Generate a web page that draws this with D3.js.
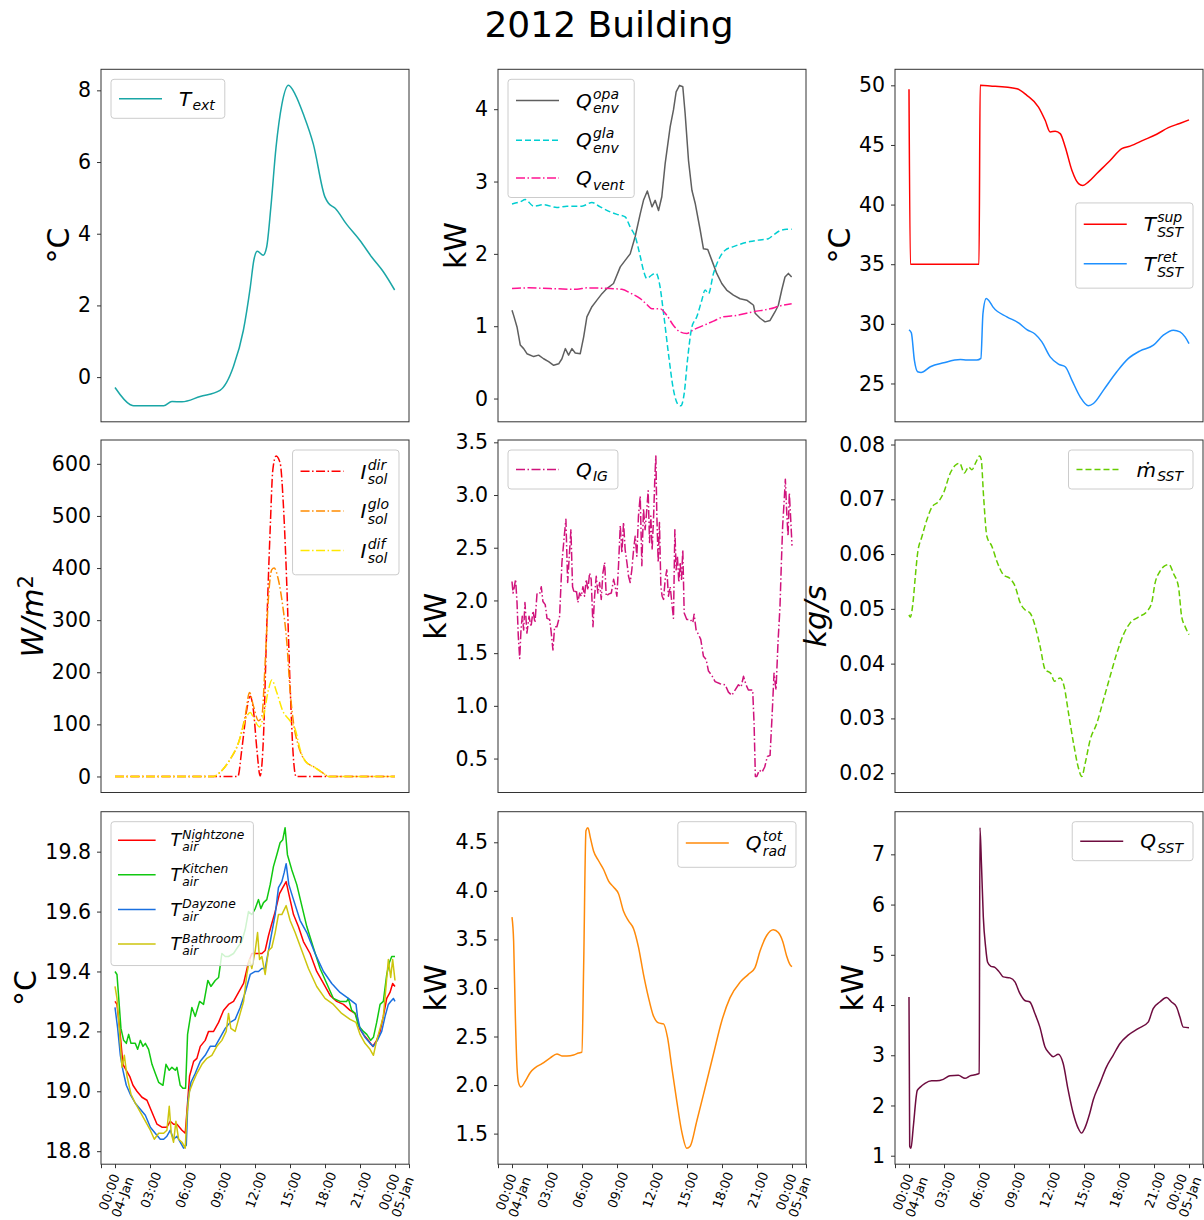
<!DOCTYPE html>
<html>
<head>
<meta charset="utf-8">
<script src="https://cdn.jsdelivr.net/npm/d3@7"></script>
<style>
  body { margin: 0; background: #fff; }
  text { font-family: "DejaVu Sans", sans-serif; fill: #000; }
</style>
</head>
<body>
<div id="chart"></div>
<script>
// --- data: [hour since 04-Jan 00:00, value] ---
var T_EXT = [[0,-0.29],[1.31,-0.77],[1.6,-0.8],[4.17,-0.8],[4.88,-0.68],[5.74,-0.69],[7.3,-0.54],[9.0,-0.37],[10.16,0.3],[11.0,1.3],[11.6,2.52],[11.9,3.26],[12.2,3.51],[12.7,3.4],[13.0,3.63],[13.36,4.74],[13.8,6.4],[14.3,7.6],[14.87,8.14],[15.44,7.89],[16.15,7.33],[17.0,6.5],[18.0,5.02],[18.3,4.85],[18.87,4.71],[19.86,4.26],[21.0,3.81],[22.0,3.35],[23.0,2.94],[23.97,2.43]];

var Q_OPA = [[0,1.22],[0.14,1.15],[0.43,0.99],[0.71,0.74],[1.0,0.69],[1.28,0.62],[1.86,0.58],[2.28,0.6],[2.71,0.55],[3.14,0.51],[3.57,0.46],[4.0,0.48],[4.28,0.55],[4.57,0.69],[4.85,0.6],[5.14,0.69],[5.42,0.63],[5.85,0.62],[6.14,0.85],[6.42,1.13],[6.85,1.27],[7.28,1.36],[7.71,1.45],[8.13,1.52],[8.7,1.59],[9.28,1.82],[9.7,1.91],[10.13,2.0],[10.56,2.24],[11.0,2.56],[11.27,2.74],[11.6,2.87],[12.0,2.65],[12.27,2.74],[12.56,2.6],[12.84,2.79],[13.13,3.25],[13.56,3.76],[13.84,3.99],[14.07,4.24],[14.36,4.33],[14.64,4.31],[14.84,3.94],[15.13,3.29],[15.42,2.88],[15.7,2.7],[16.13,2.33],[16.41,2.07],[16.78,2.06],[17.13,1.91],[17.55,1.73],[17.98,1.59],[18.4,1.5],[18.98,1.43],[19.55,1.38],[20.12,1.36],[20.55,1.31],[20.7,1.29],[20.84,1.18],[21.27,1.11],[21.69,1.06],[22.12,1.08],[22.55,1.2],[22.83,1.29],[23.12,1.5],[23.4,1.68],[23.69,1.73],[23.97,1.68]];
var Q_GLA = [[0,2.69],[0.71,2.72],[1.14,2.75],[1.86,2.66],[2.71,2.68],[3.85,2.64],[4.71,2.66],[5.99,2.66],[6.85,2.71],[7.56,2.65],[8.42,2.58],[9.13,2.54],[9.7,2.51],[10.13,2.37],[10.56,2.24],[11.0,1.96],[11.27,1.77],[11.56,1.66],[12.0,1.71],[12.36,1.73],[12.64,1.59],[12.99,1.18],[13.41,0.62],[13.84,0.12],[14.27,-0.09],[14.47,-0.1],[14.76,0.07],[15.04,0.53],[15.42,0.99],[15.84,1.13],[16.27,1.36],[16.55,1.5],[16.84,1.45],[17.27,1.73],[17.84,1.96],[18.27,2.05],[18.98,2.1],[19.68,2.14],[20.4,2.17],[21.12,2.19],[21.97,2.21],[22.4,2.26],[22.97,2.32],[23.54,2.34],[23.97,2.34]];
var Q_VENT = [[0,1.52],[1.43,1.53],[3.28,1.52],[5.57,1.51],[6.42,1.53],[8.42,1.52],[9.42,1.51],[10.13,1.46],[11.0,1.38],[11.56,1.3],[12.0,1.24],[12.7,1.24],[13.27,1.15],[13.84,1.01],[14.41,0.92],[14.98,0.9],[15.55,0.95],[16.41,1.01],[17.27,1.07],[18.12,1.13],[19.27,1.15],[20.7,1.2],[22.12,1.24],[22.97,1.28],[23.97,1.31]];

var T_SUP = [[0,49.67],[0.12,35.0],[6.0,35.0],[6.1,50.0],[6.96,49.95],[9.25,49.72],[10.1,49.16],[11.1,48.18],[11.67,47.07],[12.1,46.09],[12.53,46.15],[12.96,45.95],[13.39,44.83],[13.96,42.88],[14.53,41.76],[14.9,41.6],[15.38,41.9],[16.1,42.6],[17.24,43.7],[18.24,44.7],[18.95,44.9],[20.1,45.4],[21.23,45.9],[22.23,46.45],[23.2,46.8],[24.0,47.1]];
var T_RET = [[0,29.5],[0.2,29.25],[0.46,26.96],[0.74,25.98],[1.03,25.92],[1.83,26.4],[2.97,26.73],[4.4,27.0],[4.97,26.96],[5.82,26.96],[6.16,27.1],[6.34,30.87],[6.62,32.12],[6.82,31.98],[7.19,31.42],[8.39,30.59],[9.39,30.08],[10.1,29.52],[10.82,29.13],[11.39,28.49],[12.1,27.23],[12.81,26.62],[13.39,26.4],[13.96,25.28],[14.67,23.88],[15.38,23.13],[15.81,23.32],[16.67,24.44],[17.81,25.98],[18.81,27.1],[19.81,27.74],[20.95,28.21],[21.8,29.05],[22.66,29.47],[23.23,29.33],[23.66,28.91],[24.0,28.35]];

var I_DIR = [[0,0],[10.53,0],[10.87,52],[11.3,129],[11.59,154],[11.87,126],[12.16,52],[12.44,1],[12.73,78],[13.0,282],[13.3,474],[13.53,589],[13.81,615],[14.16,601],[14.44,518],[14.73,365],[15.0,180],[15.3,33],[15.52,0],[24,0]];
var I_GLO = [[0,0],[8.45,0],[9.0,8],[9.87,33],[10.59,65],[11.16,116],[11.53,161],[11.87,135],[12.3,107],[12.59,116],[12.87,218],[13.16,346],[13.44,397],[13.64,400],[14.0,378],[14.38,327],[14.73,257],[15.0,167],[15.3,103],[15.72,59],[16.3,30],[17.15,17],[18.0,4],[18.3,0],[24,0]];
var I_DIF = [[0,0],[8.45,0],[9.0,8],[9.87,33],[10.59,65],[11.3,116],[11.59,123],[11.93,110],[12.39,95],[12.73,116],[13.16,167],[13.44,185],[13.87,161],[14.38,126],[15.0,107],[15.44,91],[15.87,52],[16.3,30],[17.15,17],[18.0,4],[18.3,0],[24,0]];

var Q_IG = [[0,2.18],[0.09,2.07],[0.2,2.13],[0.31,2.2],[0.43,1.98],[0.54,1.66],[0.66,1.45],[0.77,1.72],[0.88,1.85],[1.0,1.72],[1.11,1.98],[1.28,1.69],[1.46,1.85],[1.63,1.75],[1.8,1.9],[1.97,1.79],[2.14,2.06],[2.37,2.06],[2.51,2.13],[2.65,1.99],[2.85,1.96],[3.0,1.83],[3.22,1.82],[3.34,1.72],[3.51,1.53],[3.65,1.75],[3.85,1.75],[4.08,1.85],[4.28,2.36],[4.48,2.61],[4.62,2.77],[4.77,2.17],[4.91,2.42],[5.05,2.67],[5.19,2.13],[5.34,2.07],[5.51,2.1],[5.65,1.98],[5.79,2.07],[5.94,2.04],[6.08,2.13],[6.22,2.04],[6.36,2.2],[6.51,2.1],[6.65,2.26],[6.79,2.2],[6.94,1.75],[7.08,2.04],[7.22,2.23],[7.36,2.07],[7.51,2.17],[7.65,2.01],[7.79,2.26],[7.94,2.36],[8.08,2.04],[8.28,2.06],[8.51,2.07],[8.71,2.2],[8.85,2.13],[8.99,2.04],[9.13,2.33],[9.28,2.71],[9.42,2.45],[9.56,2.74],[9.7,2.48],[9.85,2.36],[9.99,2.23],[10.13,2.17],[10.27,2.29],[10.42,2.48],[10.56,2.61],[10.7,2.42],[10.84,2.8],[10.99,2.99],[11.13,2.33],[11.27,2.87],[11.41,2.67],[11.56,2.87],[11.67,3.04],[11.79,2.55],[11.9,2.8],[12.01,2.48],[12.13,2.77],[12.24,3.15],[12.33,3.37],[12.41,2.83],[12.53,2.36],[12.64,2.74],[12.76,2.13],[12.87,2.04],[12.99,2.01],[13.13,2.2],[13.27,2.29],[13.41,2.04],[13.56,2.13],[13.7,1.98],[13.84,1.83],[13.96,2.67],[14.07,2.29],[14.18,2.42],[14.3,2.17],[14.41,2.36],[14.53,2.2],[14.64,2.48],[14.76,1.88],[14.98,1.82],[15.27,1.82],[15.5,1.79],[15.61,1.87],[15.78,1.72],[16.01,1.67],[16.18,1.63],[16.41,1.47],[16.64,1.44],[16.84,1.33],[17.12,1.29],[17.41,1.23],[17.84,1.21],[18.27,1.2],[18.55,1.13],[18.84,1.1],[19.12,1.15],[19.41,1.2],[19.64,1.18],[19.84,1.28],[20.06,1.2],[20.26,1.15],[20.63,1.15],[20.75,0.83],[20.86,0.33],[20.98,0.33],[21.2,0.39],[21.43,0.37],[21.66,0.42],[21.89,0.52],[22.12,0.53],[22.29,0.9],[22.46,1.31],[22.63,1.15],[22.8,1.6],[22.97,1.94],[23.09,2.36],[23.2,2.71],[23.32,2.93],[23.43,3.15],[23.55,2.83],[23.66,2.61],[23.77,3.02],[23.89,2.77],[24.0,2.52]];

var M_SST = [[0,0.0489],[0.11,0.0485],[0.34,0.0511],[0.54,0.0559],[0.74,0.0602],[1.11,0.0632],[1.54,0.0663],[1.97,0.0686],[2.54,0.0696],[2.97,0.0712],[3.54,0.0748],[3.97,0.0762],[4.34,0.0766],[4.74,0.0748],[5.11,0.0759],[5.39,0.0754],[5.74,0.0768],[6.05,0.0779],[6.19,0.0773],[6.39,0.0706],[6.68,0.0632],[7.11,0.0614],[7.53,0.0587],[8.1,0.0562],[8.68,0.0555],[9.1,0.0541],[9.53,0.0511],[9.96,0.0498],[10.39,0.0492],[10.82,0.0468],[11.24,0.0431],[11.67,0.0389],[12.16,0.0382],[12.47,0.0368],[12.96,0.0374],[13.3,0.0358],[13.67,0.031],[14.1,0.0255],[14.53,0.0209],[14.81,0.0194],[15.1,0.0218],[15.53,0.0261],[16.1,0.0291],[16.67,0.0334],[17.24,0.0377],[17.81,0.0419],[18.38,0.0453],[18.95,0.0474],[19.66,0.0485],[20.38,0.0495],[20.8,0.0511],[21.09,0.0547],[21.52,0.0569],[21.95,0.0579],[22.29,0.0581],[22.66,0.0565],[23.09,0.0541],[23.37,0.0486],[23.66,0.0468],[24.0,0.0453]];

var T_NIGHT = [[0,19.30],[0.17,19.29],[0.4,19.21],[0.68,19.09],[0.97,19.07],[1.26,19.05],[1.54,19.02],[1.88,19.0],[2.31,18.98],[2.74,18.97],[3.17,18.93],[3.6,18.89],[4.02,18.88],[4.45,18.88],[4.74,18.9],[5.02,18.89],[5.31,18.89],[5.74,18.87],[6.02,18.86],[6.16,18.93],[6.39,19.05],[6.74,19.1],[7.02,19.11],[7.31,19.15],[7.73,19.17],[8.02,19.2],[8.45,19.2],[8.88,19.23],[9.3,19.27],[9.73,19.29],[10.16,19.3],[10.59,19.33],[11.02,19.36],[11.44,19.43],[11.73,19.46],[12.16,19.46],[12.59,19.46],[12.87,19.47],[13.16,19.52],[13.44,19.56],[13.73,19.6],[14.1,19.66],[14.38,19.68],[14.67,19.7],[14.95,19.65],[15.3,19.59],[15.72,19.55],[16.15,19.5],[16.72,19.46],[17.29,19.4],[17.87,19.36],[18.44,19.32],[19.0,19.3],[19.58,19.29],[20.15,19.27],[20.58,19.26],[20.78,19.24],[20.95,19.21],[21.29,19.19],[21.72,19.17],[22.09,19.15],[22.43,19.17],[22.72,19.2],[23.0,19.25],[23.29,19.31],[23.57,19.33],[23.8,19.36],[24.0,19.35]];
var T_KITCHEN = [[0,19.4],[0.17,19.39],[0.34,19.3],[0.51,19.21],[0.74,19.17],[0.97,19.16],[1.17,19.19],[1.37,19.16],[1.74,19.16],[1.94,19.14],[2.17,19.17],[2.4,19.15],[2.6,19.16],[2.88,19.14],[3.17,19.09],[3.45,19.06],[3.74,19.03],[4.11,19.02],[4.37,19.09],[4.65,19.07],[4.88,19.08],[5.17,19.07],[5.31,19.08],[5.59,19.02],[5.82,19.01],[6.05,19.01],[6.22,19.19],[6.59,19.28],[6.88,19.25],[7.25,19.3],[7.59,19.29],[7.96,19.37],[8.22,19.35],[8.59,19.37],[8.88,19.38],[9.16,19.46],[9.45,19.45],[9.73,19.45],[10.16,19.46],[10.5,19.48],[10.87,19.5],[11.16,19.54],[11.44,19.6],[11.73,19.59],[12.02,19.61],[12.3,19.64],[12.5,19.61],[12.73,19.63],[13.01,19.64],[13.3,19.69],[13.58,19.75],[13.87,19.79],[14.15,19.83],[14.38,19.84],[14.58,19.88],[14.78,19.79],[15.15,19.74],[15.58,19.69],[16.01,19.62],[16.44,19.55],[17.0,19.48],[17.58,19.41],[18.15,19.36],[18.72,19.31],[19.29,19.3],[19.86,19.3],[20.0,19.31],[20.29,19.27],[20.58,19.26],[20.86,19.22],[21.29,19.2],[21.58,19.19],[21.92,19.17],[22.15,19.18],[22.43,19.23],[22.72,19.29],[23.0,19.3],[23.29,19.39],[23.52,19.43],[23.72,19.45],[24.0,19.45]];
var T_DAY = [[0,19.28],[0.23,19.21],[0.46,19.12],[0.68,19.07],[0.97,19.02],[1.31,18.99],[1.74,18.96],[2.17,18.94],[2.6,18.92],[3.03,18.88],[3.45,18.86],[3.88,18.84],[4.17,18.84],[4.45,18.85],[4.74,18.87],[5.02,18.84],[5.31,18.85],[5.59,18.83],[5.88,18.81],[6.11,18.82],[6.25,18.97],[6.51,19.03],[6.88,19.06],[7.31,19.1],[7.73,19.12],[8.16,19.15],[8.59,19.15],[9.02,19.18],[9.45,19.21],[9.87,19.23],[10.3,19.24],[10.73,19.28],[11.16,19.33],[11.59,19.39],[12.02,19.4],[12.3,19.4],[12.59,19.41],[12.87,19.41],[13.16,19.47],[13.44,19.53],[13.73,19.59],[14.01,19.68],[14.3,19.7],[14.5,19.73],[14.67,19.76],[14.9,19.69],[15.3,19.64],[15.87,19.57],[16.44,19.53],[17.15,19.46],[17.87,19.4],[18.58,19.36],[19.29,19.33],[20.0,19.31],[20.66,19.29],[20.78,19.25],[21.0,19.21],[21.43,19.18],[21.86,19.16],[22.15,19.15],[22.49,19.17],[22.86,19.2],[23.15,19.25],[23.43,19.29],[23.63,19.3],[23.86,19.31],[24.0,19.3]];
var T_BATH = [[0,19.35],[0.17,19.31],[0.4,19.19],[0.6,19.08],[0.8,19.12],[1.03,19.05],[1.37,18.99],[1.74,18.96],[2.17,18.93],[2.6,18.9],[3.03,18.87],[3.37,18.84],[3.74,18.86],[4.17,18.86],[4.45,18.87],[4.65,18.95],[4.82,18.86],[5.02,18.83],[5.22,18.9],[5.45,18.84],[5.74,18.83],[6.02,18.81],[6.16,18.92],[6.39,19.0],[6.68,19.03],[7.02,19.06],[7.45,19.09],[7.88,19.11],[8.3,19.12],[8.73,19.15],[9.16,19.17],[9.53,19.2],[9.73,19.26],[9.93,19.21],[10.3,19.2],[10.73,19.26],[11.02,19.3],[11.3,19.39],[11.53,19.44],[11.73,19.41],[12.02,19.47],[12.22,19.53],[12.39,19.44],[12.59,19.45],[12.87,19.39],[13.16,19.47],[13.44,19.48],[13.73,19.53],[14.01,19.59],[14.3,19.59],[14.67,19.62],[15.01,19.57],[15.44,19.53],[16.01,19.47],[16.58,19.41],[17.29,19.35],[18.0,19.31],[18.72,19.29],[19.43,19.26],[20.15,19.24],[20.66,19.23],[21.0,19.19],[21.43,19.16],[21.86,19.14],[22.15,19.12],[22.43,19.17],[22.72,19.21],[23.0,19.25],[23.23,19.35],[23.43,19.44],[23.63,19.38],[23.8,19.44],[24.0,19.37]];

var Q_RAD = [[0,3.73],[0.14,3.48],[0.29,2.69],[0.43,2.18],[0.57,2.02],[0.77,1.98],[1.14,2.04],[1.57,2.13],[2.0,2.18],[2.57,2.22],[3.28,2.28],[3.85,2.32],[4.28,2.3],[4.71,2.3],[5.28,2.31],[5.71,2.33],[5.99,2.34],[6.14,3.21],[6.34,4.62],[6.51,4.65],[6.71,4.55],[6.99,4.41],[7.42,4.31],[7.85,4.22],[8.28,4.1],[8.7,4.04],[9.13,3.97],[9.56,3.79],[9.99,3.69],[10.42,3.61],[10.84,3.42],[11.27,3.14],[11.7,2.9],[12.07,2.73],[12.56,2.64],[12.99,2.63],[13.33,2.49],[13.7,2.18],[14.13,1.83],[14.55,1.52],[14.98,1.35],[15.27,1.37],[15.84,1.63],[16.55,1.97],[17.27,2.32],[17.98,2.66],[18.69,2.9],[19.55,3.06],[20.26,3.14],[20.83,3.21],[21.26,3.38],[21.83,3.54],[22.4,3.6],[22.83,3.57],[23.2,3.48],[23.54,3.33],[23.83,3.24],[24.0,3.22]];
var Q_SST = [[0,4.16],[0.06,1.19],[0.17,1.15],[0.37,1.58],[0.71,2.3],[0.94,2.36],[1.37,2.44],[1.94,2.49],[2.37,2.49],[2.94,2.52],[3.51,2.59],[4.23,2.6],[4.8,2.54],[5.23,2.59],[5.65,2.61],[6.02,2.64],[6.08,7.53],[6.22,6.74],[6.37,5.75],[6.57,5.15],[6.74,4.85],[7.02,4.77],[7.36,4.75],[7.73,4.66],[8.08,4.56],[8.65,4.54],[9.08,4.46],[9.5,4.23],[9.93,4.09],[10.36,4.06],[10.79,3.83],[11.22,3.56],[11.65,3.17],[12.02,3.04],[12.36,2.97],[12.79,3.02],[13.21,2.84],[13.64,2.31],[14.07,1.85],[14.5,1.55],[14.79,1.45],[15.07,1.55],[15.5,1.85],[15.79,2.11],[16.36,2.44],[16.93,2.77],[17.5,3.0],[18.07,3.23],[18.79,3.4],[19.64,3.53],[20.5,3.66],[20.93,3.93],[21.5,4.06],[22.07,4.15],[22.5,4.06],[22.93,3.96],[23.22,3.76],[23.51,3.56],[24.0,3.55]];

// tick values per panel
var TICKS_TEXT = [0, 2, 4, 6, 8];
var TICKS_QENV = [0, 1, 2, 3, 4];
var TICKS_TSST = [25, 30, 35, 40, 45, 50];
var TICKS_ISOL = [0, 100, 200, 300, 400, 500, 600];
var TICKS_QIG = [0.5, 1.0, 1.5, 2.0, 2.5, 3.0, 3.5];
var TICKS_MSST = [0.02, 0.03, 0.04, 0.05, 0.06, 0.07, 0.08];
var TICKS_TAIR = [18.8, 19.0, 19.2, 19.4, 19.6, 19.8];
var TICKS_QRAD = [1.5, 2.0, 2.5, 3.0, 3.5, 4.0, 4.5];
var TICKS_QSST = [1, 2, 3, 4, 5, 6, 7];

var DASH = '6,3', DASHDOT = '9,2.5,1.5,2.5';

// layout
var W = 1204, COLS = [101, 498, 895], ROWS = [69.3, 440, 811.7];
var AX_W = 308, AX_H = 352.5;
var T0 = new Date(2012, 0, 4, 0, 0);
function toDate(h) { return new Date(+T0 + h * 3600e3); }

var panels = [
  { col: 0, row: 0, ticks: TICKS_TEXT, fmt: 'd', ylab: {t: '°C'}, loc: 'upper left',
    series: [{data: T_EXT, color: '#1aa6a6', lab: {b: 'T', sub: 'ext'}, smooth: true}] },
  { col: 1, row: 0, ticks: TICKS_QENV, fmt: 'd', ylab: {t: 'kW'}, loc: 'upper left',
    series: [{data: Q_OPA, color: '#5f5f5f', lab: {b: 'Q', sup: 'opa', sub: 'env'}},
             {data: Q_GLA, color: '#00ced1', dash: DASH, lab: {b: 'Q', sup: 'gla', sub: 'env'}, smooth: true},
             {data: Q_VENT, color: '#ff1493', dash: DASHDOT, lab: {b: 'Q', sub: 'vent'}, smooth: true}] },
  { col: 2, row: 0, ticks: TICKS_TSST, fmt: 'd', ylab: {t: '°C'}, loc: 'center right',
    series: [{data: T_SUP, color: '#ff0000', lab: {b: 'T', sup: 'sup', sub: 'SST'}, smooth: true},
             {data: T_RET, color: '#1e90ff', lab: {b: 'T', sup: 'ret', sub: 'SST'}, smooth: true}] },
  { col: 0, row: 1, ticks: TICKS_ISOL, fmt: 'd', ylab: {t: 'W/m', it: true, sup: '2'}, loc: 'upper right',
    series: [{data: I_DIR, color: '#ff0000', dash: DASHDOT, lab: {b: 'I', sup: 'dir', sub: 'sol'}, smooth: true},
             {data: I_GLO, color: '#ff8c00', dash: DASHDOT, lab: {b: 'I', sup: 'glo', sub: 'sol'}, smooth: true},
             {data: I_DIF, color: '#ffe800', dash: DASHDOT, lab: {b: 'I', sup: 'dif', sub: 'sol'}, smooth: true}] },
  { col: 1, row: 1, ticks: TICKS_QIG, fmt: '.1f', ylab: {t: 'kW'}, loc: 'upper left',
    series: [{data: Q_IG, color: '#d0137c', dash: DASHDOT, lab: {b: 'Q', sub: 'IG'}}] },
  { col: 2, row: 1, ticks: TICKS_MSST, fmt: '.2f', ylab: {t: 'kg/s', it: true, desc: true}, loc: 'upper right',
    series: [{data: M_SST, color: '#66cc00', dash: DASH, lab: {b: '\u1e41', sub: 'SST'}, smooth: true}] },
  { col: 0, row: 2, ticks: TICKS_TAIR, fmt: '.1f', ylab: {t: '°C'}, loc: 'upper left', legendFs: 17.5,
    series: [{data: T_NIGHT, color: '#ff0000', lab: {b: 'T', sup: 'Nightzone', sub: 'air'}},
             {data: T_KITCHEN, color: '#11c811', lab: {b: 'T', sup: 'Kitchen', sub: 'air'}},
             {data: T_DAY, color: '#1a6fdf', lab: {b: 'T', sup: 'Dayzone', sub: 'air'}},
             {data: T_BATH, color: '#cdc50e', lab: {b: 'T', sup: 'Bathroom', sub: 'air'}}] },
  { col: 1, row: 2, ticks: TICKS_QRAD, fmt: '.1f', ylab: {t: 'kW'}, loc: 'upper right',
    series: [{data: Q_RAD, color: '#ff8a0a', lab: {b: 'Q', sup: 'tot', sub: 'rad'}, smooth: true}] },
  { col: 2, row: 2, ticks: TICKS_QSST, fmt: 'd', ylab: {t: 'kW'}, loc: 'upper right',
    series: [{data: Q_SST, color: '#6e0c3f', lab: {b: 'Q', sub: 'SST'}, smooth: true}] }
];

var svg = d3.select('#chart').append('svg')
  .attr('width', W).attr('height', 1220);

svg.append('text')
  .attr('x', 609).attr('y', 37)
  .attr('text-anchor', 'middle')
  .style('font-size', '36px')
  .text('2012 Building');

// mathtext-like label: italic base letter with stacked sup/sub
function mathLabel(g, x, y, lab, fs) {
  var t = g.append('text').attr('x', x).attr('y', y)
    .style('font-size', fs + 'px').style('font-style', 'italic').text(lab.b);
  var w = t.node().getComputedTextLength() + fs * 0.06;
  var both = lab.sup && lab.sub, sw = 0;
  if (lab.sup) {
    var s1 = g.append('text').attr('x', x + w).attr('y', y - fs * 0.45)
      .style('font-size', (fs * 0.7) + 'px').style('font-style', 'italic').text(lab.sup);
    sw = Math.max(sw, s1.node().getComputedTextLength());
  }
  if (lab.sub) {
    var s2 = g.append('text').attr('x', x + w).attr('y', y + fs * (both ? 0.28 : 0.22))
      .style('font-size', (fs * 0.7) + 'px').style('font-style', 'italic').text(lab.sub);
    sw = Math.max(sw, s2.node().getComputedTextLength());
  }
  return w + sw;
}

function drawLegend(g, p) {
  var fs = p.legendFs || 20;
  var lg = g.append('g');
  var box = lg.append('rect');
  var pad = 0.4 * fs, hl = 2.15 * fs, hp = 0.85 * fs, sp = 0.5 * fs;
  var yy = pad, maxW = 0;
  p.series.forEach(function (s) {
    var both = s.lab.sup && s.lab.sub;
    var h = both ? 1.48 * fs : 1.15 * fs;
    var cy = yy + h / 2 - (both ? 1.5 : 0);
    lg.append('line')
      .attr('x1', pad).attr('x2', pad + hl).attr('y1', cy).attr('y2', cy)
      .attr('stroke', s.color).attr('stroke-width', 1.5)
      .attr('stroke-dasharray', s.dash || null);
    var w = mathLabel(lg, pad + hl + hp, cy + 0.36 * fs, s.lab, fs);
    maxW = Math.max(maxW, w);
    yy += h + sp;
  });
  var bw = pad + hl + hp + maxW + pad + 2, bh = yy - sp + pad;
  box.attr('width', bw).attr('height', bh).attr('rx', 3)
    .attr('fill', '#fff').attr('fill-opacity', 0.8)
    .attr('stroke', '#cccccc').attr('stroke-width', 1);
  var lx = p.loc.indexOf('left') >= 0 ? 10 : AX_W - 10 - bw;
  var ly = p.loc.indexOf('upper') >= 0 ? 10 : (AX_H - bh) / 2;
  lg.attr('transform', 'translate(' + lx + ',' + ly + ')');
}

panels.forEach(function (p) {
  var g = svg.append('g')
    .attr('transform', 'translate(' + COLS[p.col] + ',' + ROWS[p.row] + ')');

  // x: 24 h with 5% margins, like matplotlib
  var x = d3.scaleTime().domain([toDate(-1.2), toDate(25.2)]).range([0, AX_W]);

  var vals = [];
  p.series.forEach(function (s) { s.data.forEach(function (d) { vals.push(d[1]); }); });
  var ext = d3.extent(vals), m = (ext[1] - ext[0]) * 0.05;
  var y = d3.scaleLinear().domain([ext[0] - m, ext[1] + m]).range([AX_H, 0]);

  p.series.forEach(function (s) {
    var line = d3.line()
      .x(function (d) { return x(toDate(d[0])); })
      .y(function (d) { return y(d[1]); })
      .curve(s.smooth ? d3.curveMonotoneX : d3.curveLinear);
    g.append('path')
      .datum(s.data)
      .attr('d', line)
      .attr('fill', 'none')
      .attr('stroke', s.color)
      .attr('stroke-width', 1.5)
      .attr('stroke-linejoin', 'round')
      .attr('stroke-dasharray', s.dash || null);
  });

  g.append('rect')
    .attr('width', AX_W).attr('height', AX_H)
    .attr('fill', 'none').attr('stroke', '#333').attr('stroke-width', 1);

  // y axis
  var ya = g.append('g')
    .call(d3.axisLeft(y).tickValues(p.ticks).tickFormat(d3.format(p.fmt)).tickSize(4).tickPadding(6));
  ya.select('.domain').remove();
  ya.attr('font-family', null).attr('font-size', null);
  ya.selectAll('line').attr('stroke', '#333');
  ya.selectAll('text').style('font-size', '20.5px').attr('fill', '#000');

  var tickLeft = ya.node().getBBox().x;
  var lx = tickLeft - 9 - (p.ylab.desc ? 4 : 0);
  var yl = g.append('text')
    .attr('transform', 'translate(' + lx + ',' + (AX_H / 2) + ') rotate(-90)')
    .attr('text-anchor', 'middle')
    .style('font-size', '30px');
  yl.append('tspan').style('font-style', p.ylab.it ? 'italic' : 'normal').text(p.ylab.t);
  if (p.ylab.sup) {
    yl.append('tspan').attr('dy', '-0.45em').style('font-size', '21px').text(p.ylab.sup);
  }

  drawLegend(g, p);

  // x axis only on the bottom row
  if (p.row === 2) {
    var dom = x.domain();
    var hours = x.ticks(d3.timeHour.every(3));
    var tv = [dom[0]].concat(hours, [dom[1]]);
    var fmtH = d3.timeFormat('%H:%M'), fmtD = d3.timeFormat('%d-%b');
    var xa = g.append('g')
      .attr('transform', 'translate(0,' + AX_H + ')')
      .call(d3.axisBottom(x).tickValues(tv).tickSize(4).tickFormat(function () { return ''; }));
    xa.select('.domain').remove();
    xa.attr('font-family', null).attr('font-size', null);
    xa.selectAll('line').attr('stroke', '#333');
    var fs = 13, lh = 1.1, ang = 70 * Math.PI / 180;
    xa.selectAll('.tick text').each(function (d, i) {
      if (i === 0 || i === tv.length - 1) return;
      var t = d3.select(this).attr('y', null).attr('dy', null)
        .attr('text-anchor', 'middle').attr('dominant-baseline', 'central')
        .style('font-size', fs + 'px').attr('fill', '#000');
      var lines = d.getHours() === 0 ? [fmtH(d), fmtD(d)] : [fmtH(d)];
      var L = 0;
      lines.forEach(function (s, k) {
        var ts = t.append('tspan').attr('x', 0)
          .attr('dy', k === 0 ? (-(lines.length - 1) * lh / 2) + 'em' : lh + 'em').text(s);
        L = Math.max(L, ts.node().getComputedTextLength());
      });
      var H = lines.length * lh * fs;
      var bh = L * Math.sin(ang) + H * Math.cos(ang);
      var bw = L * Math.cos(ang) + H * Math.sin(ang);
      // keep the last label inside the picture
      var over = COLS[p.col] + x(d) + bw / 2 - (W - 1);
      var dx = over > 0 ? -over : 0;
      t.attr('transform', 'translate(' + dx + ',' + (5.5 + bh / 2) + ') rotate(-70)');
    });
  }
});
</script>
</body>
</html>
